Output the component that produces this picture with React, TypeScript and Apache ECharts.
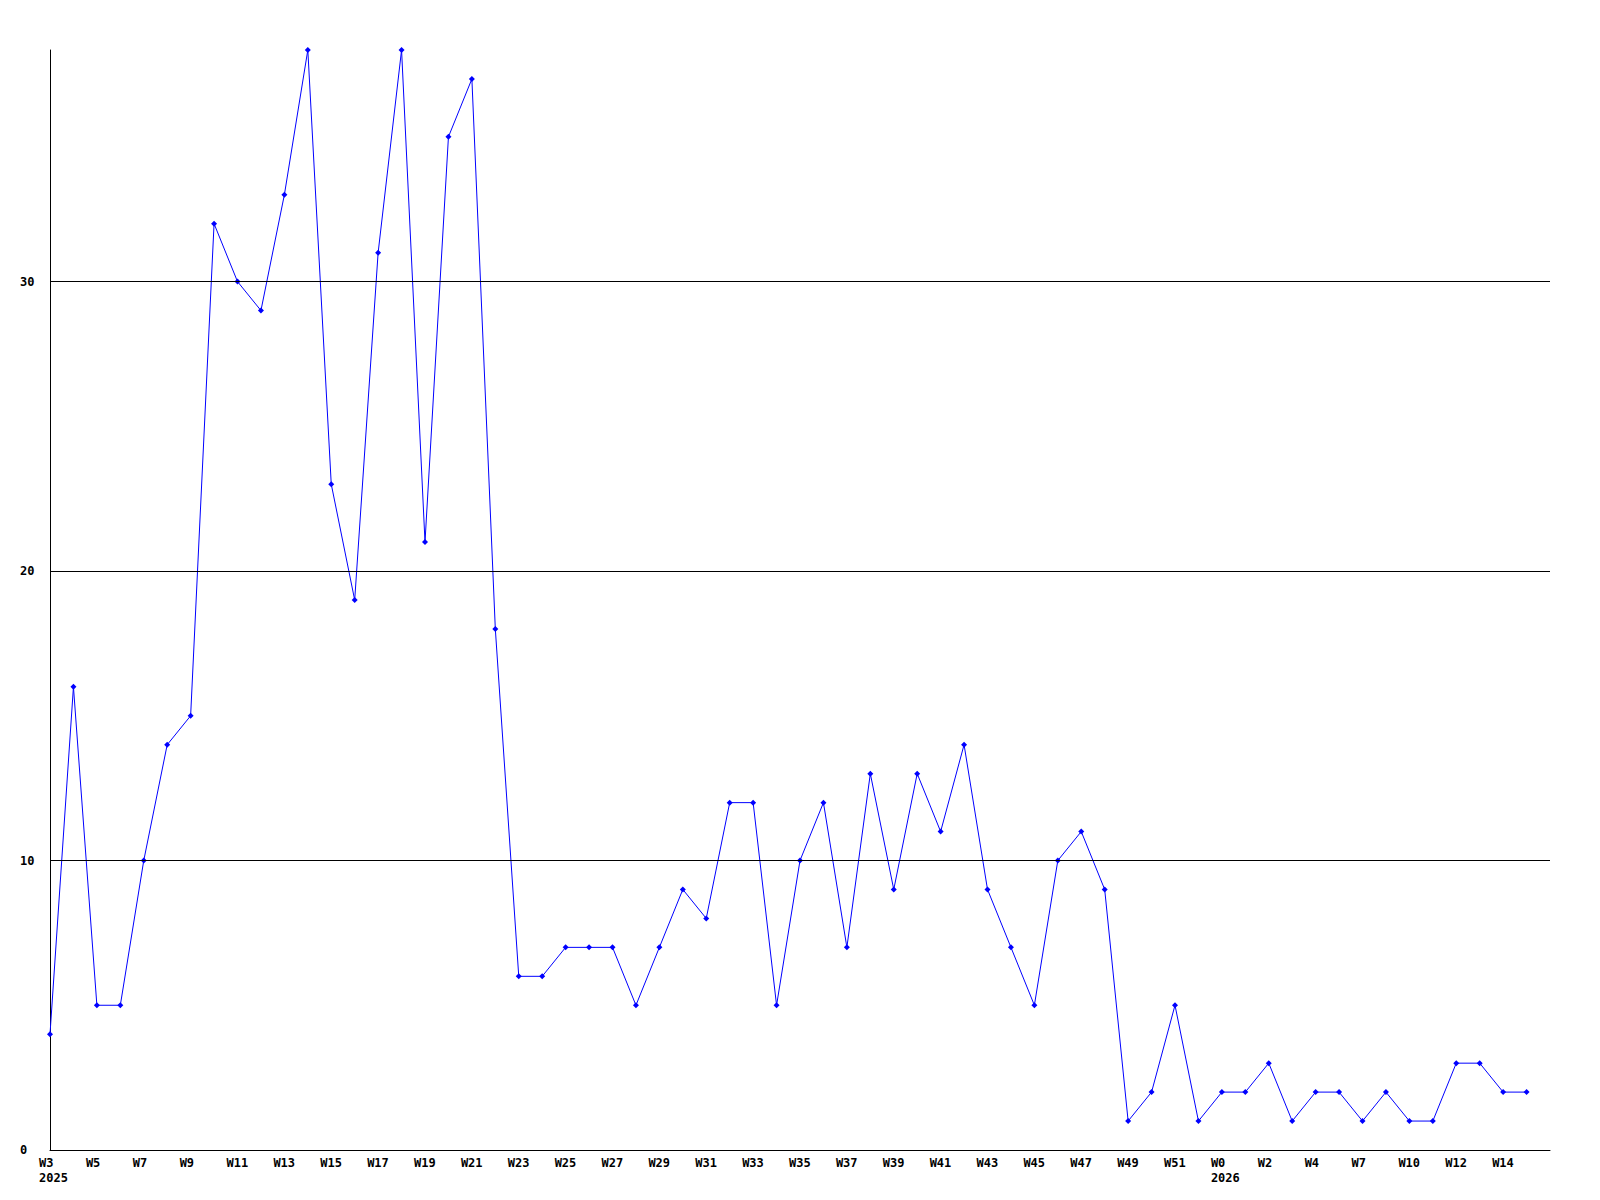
import React, { useEffect, useRef } from "react";
import * as echarts from "echarts";

// Week labels, one per data slot (the last slot is an empty one at the axis end)
const weeks2025: string[] = [
  "W3", "W4", "W5", "W6", "W7", "W8", "W9", "W10", "W11", "W12",
  "W13", "W14", "W15", "W16", "W17", "W18", "W19", "W20", "W21", "W22",
  "W23", "W24", "W25", "W26", "W27", "W28", "W29", "W30", "W31", "W32",
  "W33", "W34", "W35", "W36", "W37", "W38", "W39", "W40", "W41", "W42",
  "W43", "W44", "W45", "W46", "W47", "W48", "W49", "W50", "W51", "W52",
];
const weeks2026: string[] = [
  "W0", "W1", "W2", "W3", "W4", "W6", "W7", "W9", "W10", "W11",
  "W12", "W13", "W14", "W15", "",
];
const yearLabels: { [index: number]: string } = { 0: "2025", 50: "2026" };

const values: number[] = [
  4, 16, 5, 5, 10, 14, 15, 32, 30, 29,
  33, 38, 23, 19, 31, 38, 21, 35, 37, 18,
  6, 6, 7, 7, 7, 5, 7, 9, 8, 12,
  12, 5, 10, 12, 7, 13, 9, 13, 11, 14,
  9, 7, 5, 10, 11, 9, 1, 2, 5, 1,
  2, 2, 3, 1, 2, 2, 1, 2, 1, 1,
  3, 3, 2, 2,
];

const gridLines: number[] = [10, 20, 30];

export default function App() {
  const ref = useRef<HTMLDivElement>(null);

  useEffect(() => {
    if (!ref.current) return;
    const chart = echarts.init(ref.current, null, { renderer: "svg" });
    const categories = [...weeks2025, ...weeks2026];
    const font = "'DejaVu Sans Mono', monospace";
    chart.setOption({
      animation: false,
      backgroundColor: "#ffffff",
      grid: { left: 50, right: 50, top: 50, bottom: 50, containLabel: false },
      xAxis: {
        type: "category",
        data: categories,
        boundaryGap: false,
        axisLine: { show: true, lineStyle: { color: "#000000", width: 1 } },
        axisTick: { show: false },
        splitLine: { show: false },
        axisLabel: {
          interval: 1,
          align: "left",
          margin: 5,
          padding: [0, 0, 0, -11],
          fontFamily: font,
          fontWeight: "bold",
          fontSize: 12,
          lineHeight: 15,
          color: "#000000",
          formatter: (value: string, index: number) =>
            yearLabels[index] ? value + "\n" + yearLabels[index] : value,
        },
      },
      yAxis: {
        type: "value",
        min: 0,
        max: 38,
        interval: 10,
        axisLine: { show: true, lineStyle: { color: "#000000", width: 1 } },
        axisTick: { show: false },
        splitLine: { show: false },
        axisLabel: {
          showMaxLabel: false,
          align: "left",
          margin: 30,
          fontFamily: font,
          fontWeight: "bold",
          fontSize: 12,
          color: "#000000",
          formatter: (v: number) => (v === 38 ? "" : String(v)),
        },
      },
      series: [
        {
          type: "line",
          data: values,
          symbol: "diamond",
          symbolSize: 6,
          showSymbol: true,
          lineStyle: { color: "#0000ff", width: 1 },
          itemStyle: { color: "#0000ff" },
          markLine: {
            silent: true,
            symbol: "none",
            label: { show: false },
            lineStyle: { color: "#000000", width: 1, type: "solid" },
            data: gridLines.map((g) => ({ yAxis: g })),
          },
          z: 3,
        },
      ],
    });
    return () => chart.dispose();
  }, []);

  return (
    <div
      ref={ref}
      style={{ position: "fixed", left: 0, top: 0, width: 1600, height: 1200, background: "#fff" }}
    />
  );
}
